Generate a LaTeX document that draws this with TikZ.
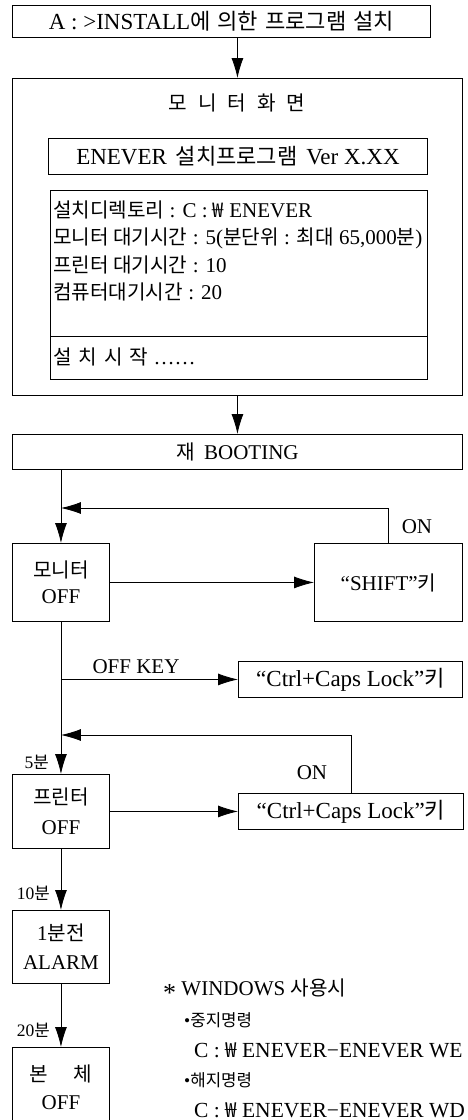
\documentclass[tikz,border=0pt]{standalone}
\usepackage{fontspec}
\setmainfont{Liberation Serif}
\newfontfamily\kr[Scale=0.96]{Noto Sans CJK KR}
\usetikzlibrary{arrows.meta}
\newcommand\K[1]{{\kr #1}}
\begin{document}
\begin{tikzpicture}[x=1pt,y=1pt,
  every node/.style={font=\fontsize{21}{25}\selectfont, inner sep=0pt},
  big/.style={font=\fontsize{23}{27}\selectfont},
  box/.style={draw, line width=0.9pt, anchor=north west},
  lbl/.style={font=\fontsize{17.5}{20}\selectfont},
  arr/.style={line width=0.8pt, -{Latex[length=20pt,width=12pt]}},
  ln/.style={line width=0.8pt}]
\useasboundingbox (0,0) rectangle (468,-1120);
\clip (0,0) rectangle (468,-1120);

% install
\node[box, big, minimum width=418, minimum height=32] (top) at (12,-5) {A : >INSTALL\K{에\hspace{7pt}의한\hspace{7pt}프로그램\hspace{7pt}설치}\hspace{4pt}};
% screen
\node[box, minimum width=450, minimum height=317] (screen) at (12,-78) {};
\node (title) at (237,-103) {\K{모\hspace{11pt}니\hspace{11pt}터\hspace{11pt}화\hspace{11pt}면}};
\node[box, big, minimum width=379, minimum height=36] (ver) at (48,-138) {ENEVER\hspace{3pt} \K{설치프로그램}\hspace{3pt} Ver X.XX};
\node[box, minimum width=377, minimum height=189] (set) at (50,-190) {};
\coordinate (dl) at (set.west |- 0,-336);
\coordinate (dr) at (set.east |- 0,-336);
\draw[ln] (dl) -- (dr);
\node[anchor=west] (s1) at (53,-210) {\K{설치디렉토리} : C : \K{₩} ENEVER};
\node[anchor=west] (s2) at (53,-238) {\K{모니터 대기시간} : 5(\K{분단위} : \K{최대} 65,000\K{분})};
\node[anchor=west] (s3) at (53,-265) {\K{프린터 대기시간} : 10};
\node[anchor=west] (s4) at (53,-292) {\K{컴퓨터대기시간} : 20};
\node[anchor=west] (s5) at (53,-357) {\K{설\hspace{7pt}치\hspace{7pt}시\hspace{7pt}작} ……};
% booting
\node[box, minimum width=450, minimum height=35] (boot) at (12,-434) {\K{재}\hspace{4pt} BOOTING};
% monitor
\node[box, minimum width=97, minimum height=78, align=center, font=\fontsize{21}{26}\selectfont] (mon) at (12,-543) {\K{모니터}\\OFF};
\node[box, minimum width=148, minimum height=78] (shift) at (314,-543) {“SHIFT”\K{키}};
\node[box, big, minimum width=224, minimum height=36] (c1) at (238,-661) {“Ctrl+Caps Lock”\K{키}};
% printer
\node[box, minimum width=97, minimum height=74, align=center, font=\fontsize{21}{30}\selectfont] (prn) at (12,-774) {\K{프린터}\\OFF};
\node[box, big, minimum width=225, minimum height=36] (c2) at (238,-793) {“Ctrl+Caps Lock”\K{키}};
% alarm
\node[box, minimum width=97, minimum height=73, align=center, font=\fontsize{21}{29}\selectfont] (alm) at (12,-910) {1\K{분전}\\ALARM};
% body
\node[box, minimum width=97, minimum height=80, align=center, font=\fontsize{21}{28}\selectfont] (body) at (12,-1047) {\K{본\hspace{26pt}체}\\OFF};

% labels
\node[lbl, anchor=east] (m5) at (49,-762) {5\K{분}};
\node[lbl, anchor=east] (m10) at (50,-893) {10\K{분}};
\node[lbl, anchor=east] (m20) at (50,-1030) {20\K{분}};
\node (on1) at (417,-527) {ON};
\node (on2) at (312,-773) {ON};
\node (offkey) at (136,-667) {OFF KEY};

% windows note
\node[anchor=west] (w0) at (163,-990) {{\fontsize{26}{26}\selectfont\raisebox{-6pt}{*}}\ WINDOWS \K{사용시}};
\node[anchor=west, lbl] (w1) at (184,-1020) {•\K{중지명령}};
\node[anchor=west, font=\fontsize{21.5}{25}\selectfont] (w2) at (194,-1050) {C : \K{₩} ENEVER−ENEVER WE};
\node[anchor=west, lbl] (w3) at (184,-1080) {•\K{해지명령}};
\node[anchor=west, font=\fontsize{21.5}{25}\selectfont] (w4) at (194,-1110) {C : \K{₩} ENEVER−ENEVER WD};

% connectors
\coordinate (fb1) at (mon.north |- 0,-508);
\coordinate (ok) at (mon.south |- c1.west);
\coordinate (fb2) at (mon.south |- 0,-735);
\draw[arr] (top.south -| screen.north) -- (screen.north);
\draw[arr] (screen.south) -- (boot.north);
\draw[arr] (boot.south -| mon.north) -- (mon.north);
\draw[arr] (shift.north) |- (fb1);
\draw[arr] (mon.east) -- (shift.west);
\draw[arr] (mon.south) -- (prn.north);
\draw[arr] (ok) -- (c1.west);
\draw[arr] (c2.north) |- (fb2);
\draw[arr] (prn.east) -- (c2.west);
\draw[arr] (prn.south) -- (alm.north);
\draw[arr] (alm.south) -- (body.north);
\end{tikzpicture}
\end{document}
